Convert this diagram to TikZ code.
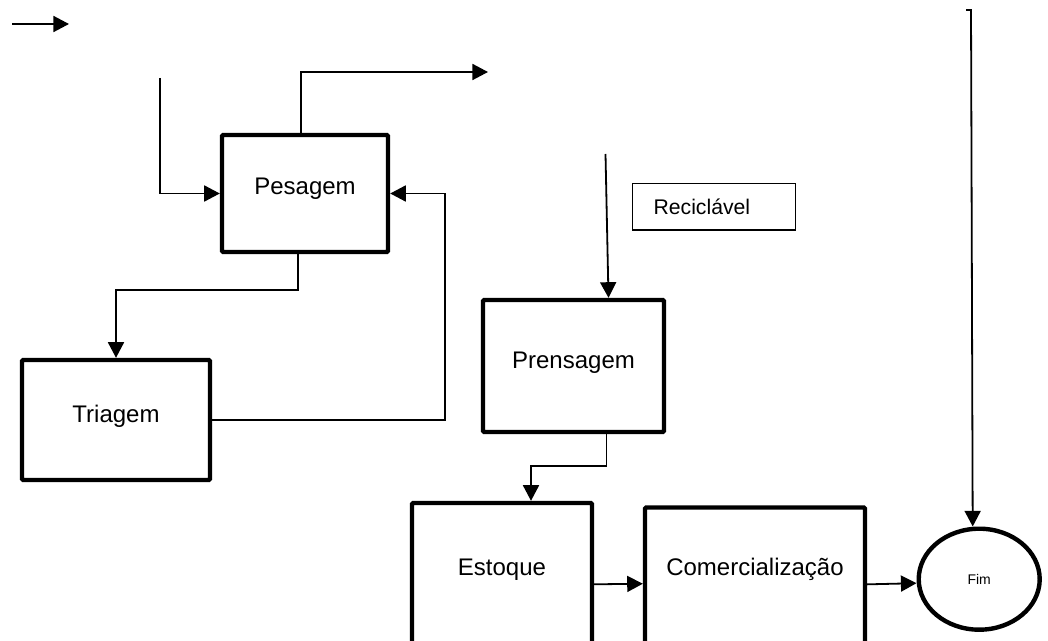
\documentclass[tikz,border=0pt]{standalone}
\usepackage{fontspec}
\setmainfont{Liberation Sans}
\usetikzlibrary{arrows.meta,shapes.geometric}
\begin{document}
\begin{tikzpicture}[x=0.5pt,y=-0.5pt,
  box/.style={draw,line width=2.2pt,rounded corners=0.6pt,inner xsep=0pt,inner ysep=0pt,anchor=base,
    font=\fontsize{12pt}{14pt}\selectfont},
  thinbox/.style={draw,line width=0.55pt,inner xsep=10.5pt,inner ysep=0pt,anchor=base west,align=left,
    font=\fontsize{10.6pt}{12pt}\selectfont},
  endnode/.style={draw,ellipse,line width=2.2pt,inner sep=0pt,font=\fontsize{7pt}{8pt}\selectfont},
  arr/.style={line width=0.9pt,-{Triangle[length=7.8pt,width=8pt]}},
  plain/.style={line width=0.9pt}]
\fill[white] (0,0) rectangle (1048,641);
\clip (0,0) rectangle (1048,641);
% nodes
\node[box,minimum width=83pt,text height=30pt,text depth=28.5pt] (pes) at (305,195) {Pesagem};
\node[box,minimum width=94pt,text height=31pt,text depth=29pt] (tri) at (116,422) {Triagem};
\node[box,minimum width=90.5pt,text height=34pt,text depth=32pt] (pre) at (573.5,368) {Prensagem};
\node[box,minimum width=90pt,text height=36pt,text depth=42.5pt] (est) at (502,575) {Estoque};
\node[box,minimum width=110pt,text height=33.75pt,text depth=42.5pt] (com) at (755,575) {Comercialização};
\node[thinbox,text width=60.25pt,text height=15.4pt,text depth=7.85pt] (rec) at (632,214.3) {Reciclável};
\node[endnode,minimum width=60.5pt,minimum height=50.5pt] (fim) at (979.2,579.2) {Fim};
% free ends
\coordinate (a1) at (12,24);
\coordinate (a2) at (69,24);
\coordinate (inp) at (160,78);
\coordinate (outp) at (488,72);
\coordinate (recin) at (605.5,154);
\coordinate (fimtop1) at (966,10);
\coordinate (fimtop2) at (971,10);
% connectors
\draw[arr] (a1) -- (a2);
\draw[arr] (inp) |- (pes.west);
\draw[arr] ([xshift=-2pt]pes.north) |- (outp);
\draw[arr] ([xshift=-3.5pt]pes.south) -- ++(0,36) -| (tri.north);
\draw[arr] (tri.east) -- ++(233,0) |- (pes.east);
\draw[arr] (recin) -- ([xshift=17.5pt]pre.north);
\draw[arr] ([xshift=16.5pt]pre.south) -- ++(0,32) -| ([xshift=14.5pt]est.north);
\draw[arr] ([yshift=-1.4pt]est.east) -- (com.west);
\draw[arr] ([yshift=-0.3pt]com.east) -- ([yshift=-2pt]fim.west);
\draw[arr] (fimtop1) -- (fimtop2) -- ([xshift=-3.25pt]fim.north);
\end{tikzpicture}
\end{document}
